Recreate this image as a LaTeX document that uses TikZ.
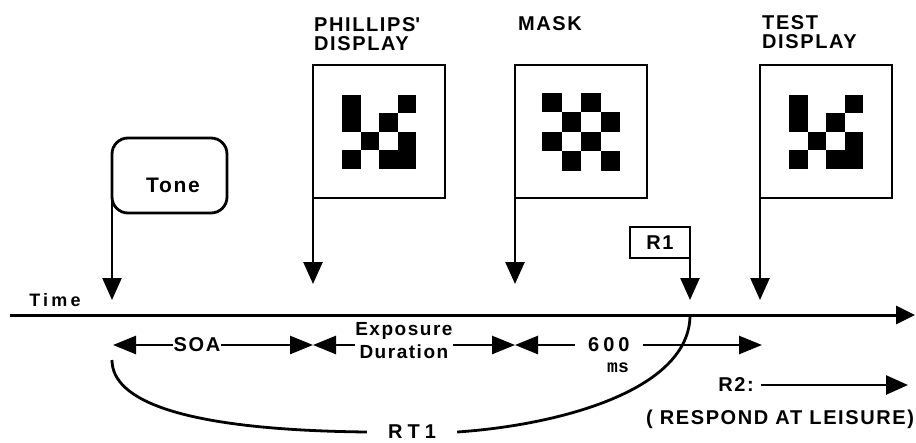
\documentclass[tikz,border=0pt]{standalone}
\usepackage{fontspec}
\newfontfamily\lblfont[LetterSpace=8]{Liberation Sans}
\newfontfamily\msfont{Liberation Mono}
\usetikzlibrary{positioning,arrows.meta}

\begin{document}
\begin{tikzpicture}[
  x=1pt, y=-1pt,
  disp/.style={rectangle, draw, line width=2.8pt, outer sep=0pt,
               minimum width=132pt, minimum height=133pt},
  tonebox/.style={rectangle, rounded corners=16pt, draw, line width=2.8pt, outer sep=0pt,
                  minimum width=115pt, minimum height=75pt},
  rbox/.style={rectangle, draw, line width=2.6pt, outer sep=0pt, inner sep=0pt,
               minimum width=60pt, minimum height=31pt, font=\lblfont\bfseries\fontsize{20}{20}\selectfont},
  lbl/.style={align=left, inner sep=0pt, font=\lblfont\bfseries\fontsize{20}{19}\selectfont},
  gap/.style={fill=white, inner ysep=0pt, inner xsep=1pt, align=center,
              font=\lblfont\bfseries\fontsize{20}{20}\selectfont},
  arrow/.style={-{Triangle[length=22pt, width=19pt]}, line width=2.6pt},
  dim/.style={{Triangle[length=23pt, width=18pt]}-{Triangle[length=23pt, width=18pt]}, line width=2.6pt},
  curve/.style={line width=2.8pt}
]
\useasboundingbox (0,0) rectangle (916,442);

% events
\node[tonebox] (tone) at (169.5,175.5) {};
\node[lbl, font=\lblfont\bfseries\fontsize{21}{21}\selectfont] (toneTxt) at (173,185) {Tone};
\node[disp] (phil) at (379,131.5) {};
\node[disp, right=70pt of phil] (mask) {};
\node[disp, right=113pt of mask] (test) {};
\node[rbox] (r1) at (660,242.5) {R1};

\node[lbl, anchor=base west] (philLbl) at (314,50) {PHILLIPS\textquotesingle\\DISPLAY};
\node[lbl, anchor=base west] (maskLbl) at (518,30) {MASK};
\node[lbl, anchor=base west] (testLbl) at (762,48) {TEST\\DISPLAY};

% patterns
\foreach \c/\r in {0/0,3/0,0/1,2/1,1/2,3/2,0/3,2/3,3/3} {
  \fill[shift={(phil.center)}] ({-37+18.5*\c},{-37+18.5*\r}) rectangle ++(18.5,18.5);
  \fill[shift={(test.center)}] ({-37+18.5*\c},{-37+18.5*\r}) rectangle ++(18.5,18.5);
}
\foreach \c/\r in {0/0,2/0,1/1,3/1,0/2,2/2,1/3,3/3}
  \fill[shift={(mask.center)}] ({-39+19.5*\c},{-39+19.5*\r}) rectangle ++(19.5,19.5);

% time axis
\coordinate (tStart) at (10,315);
\coordinate (tEnd) at (915,315);
\draw[-{Triangle[length=19pt, width=18pt]}, line width=3pt] (tStart) -- (tEnd);
\node[lbl, font=\lblfont\bfseries\fontsize{18}{18}\selectfont\addfontfeature{LetterSpace=18}] (timeLbl) at (55,300) {Time};

\coordinate (tipHi) at (0,284);
\coordinate (tipLo) at (0,300);
\draw[arrow] (tone.west) -- (tone.west |- tipLo);
\draw[arrow] (phil.south west) -- (phil.south west |- tipHi);
\draw[arrow] (mask.south west) -- (mask.south west |- tipHi);
\draw[arrow] (r1.south east) -- (r1.south east |- tipLo);
\draw[arrow] (test.south west) -- (test.south west |- tipLo);

% intervals
\coordinate (dTone) at (113,345);
\coordinate (dPhil) at (313,345);
\coordinate (dMask) at (515,345);
\coordinate (dEnd) at (762,345);
\draw[dim] (dTone) -- node[gap, pos=0.42] (soa) {SOA} (dPhil);
\draw[dim] (dPhil) -- node[gap, pos=0.45, yshift=4pt, inner xsep=0pt,
  font=\lblfont\bfseries\fontsize{19}{23}\selectfont] (expo) {Exposure\\Duration} (dMask);
\draw[dim] (dMask) -- node[gap, pos=0.38, inner xsep=13pt,
  font=\lblfont\bfseries\fontsize{20}{20}\selectfont\addfontfeature{LetterSpace=20}] (six) {600} (dEnd);
\node[inner sep=0pt, font=\msfont\bfseries\fontsize{18}{18}\selectfont] (ms) at (618,368) {ms};

% second response
\node[lbl] (r2) at (736,385) {R2:};
\coordinate (r2End) at (908,385);
\draw[arrow, shorten <=7pt] (r2.east) -- (r2End);
\node[lbl] (leis) at (780,419) {( RESPOND AT LEISURE)};

% RT1
\node[lbl, minimum width=90pt, font=\lblfont\bfseries\fontsize{20}{20}\selectfont\addfontfeature{LetterSpace=25}] (rt) at (412,432) {RT1};
\coordinate (rtStart) at (112,360);
\coordinate (tR1) at (r1.south east |- tStart);
\draw[curve] (rtStart) .. controls (112,400) and (180,430) .. (rt.west);
\draw[curve] (rt.east) .. controls (560,425) and (690,390) .. (tR1);
\end{tikzpicture}
\end{document}
